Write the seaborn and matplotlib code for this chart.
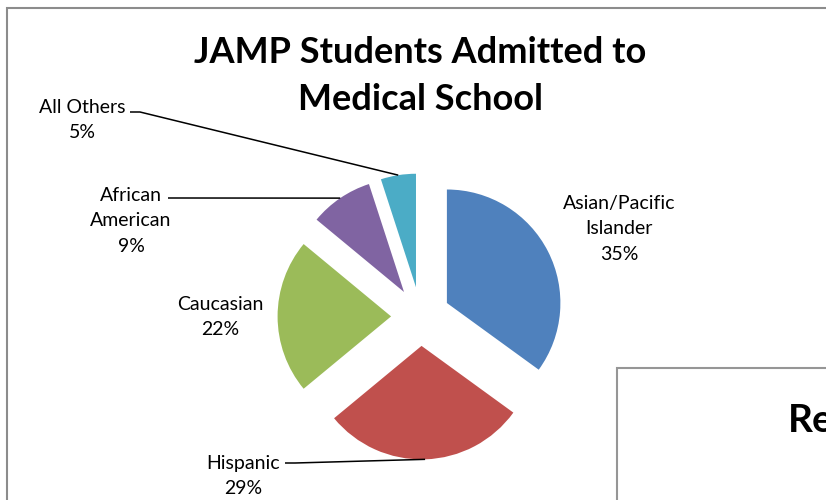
import matplotlib
matplotlib.use("Agg")
import matplotlib.pyplot as plt
import seaborn as sns
import numpy as np
from matplotlib.patches import Rectangle

# chart data
groups = ["Asian/Pacific\nIslander", "Hispanic", "Caucasian", "African\nAmerican", "All Others"]
shares = [35, 29, 22, 9, 5]
colors = ["#4F81BD", "#C0504D", "#9BBB59", "#8064A2", "#4BACC6"]

# label layout (pixel centres) and which labels get a leader line
label_px = [(619, 229), (243, 476), (220, 317), (131, 221), (82, 120)]
leader_start_px = [None, (285, 463), None, (168, 198), (130, 112)]

sns.set_theme(style="white")
plt.rcParams["font.family"] = ["Lato", "DejaVu Sans"]
plt.rcParams["text.color"] = "black"

W, H = 826, 500
R_PX = 113.5            # pie radius in pixels
CX, CY = 420.6, 316.4   # pie centre in pixels (from top-left)

def to_data(px, py):
    return (px - CX) / R_PX, (CY - py) / R_PX

fig = plt.figure(figsize=(W / 100, H / 100), dpi=100)
ax = fig.add_axes([0, 0, 1, 1])
wedges, _ = ax.pie(shares, colors=colors, startangle=90, counterclock=False,
                   explode=[0.26] * len(shares), radius=1,
                   wedgeprops=dict(linewidth=0))
ax.set_aspect("auto")
ax.set_xlim(-CX / R_PX, (W - CX) / R_PX)
ax.set_ylim(-(H - CY) / R_PX, CY / R_PX)
ax.axis("off")

for w, g, s, lp, ls in zip(wedges, groups, shares, label_px, leader_start_px):
    tx, ty = to_data(*lp)
    ax.text(tx, ty, f"{g}\n{s}%", ha="center", va="center", multialignment="center",
            fontsize=14, color="black", linespacing=1.6)
    if ls is not None:
        mid = np.deg2rad((w.theta1 + w.theta2) / 2)
        ex = w.center[0] + w.r * np.cos(mid)
        ey = w.center[1] + w.r * np.sin(mid)
        sx, sy = to_data(*ls)
        hx = sx + 10 / R_PX
        ax.plot([sx, hx, ex], [sy, sy, ey], color="black", lw=1.1,
                solid_capstyle="butt")

fig.text(420 / W, 1 - 76 / H, "JAMP Students Admitted to\nMedical School",
         ha="center", va="center", fontsize=26, fontweight="bold", linespacing=1.55)

# chart frame and the neighbouring chart peeking in
fig.patches.append(Rectangle((7.5 / W, -0.1), 1.2, 1.1 - 8.5 / H, transform=fig.transFigure,
                             facecolor="none", edgecolor="#8c8c8c", lw=1.5, figure=fig))
fig.patches.append(Rectangle((616.5 / W, -0.1), 1.0, 1.1 - 368.5 / H, transform=fig.transFigure,
                             facecolor="white", edgecolor="#969696", lw=1.5, figure=fig))
fig.text(788 / W, 1 - 420 / H, "Re", ha="left", va="center", fontsize=28, fontweight="bold")

fig.savefig("out.png", dpi=100)
